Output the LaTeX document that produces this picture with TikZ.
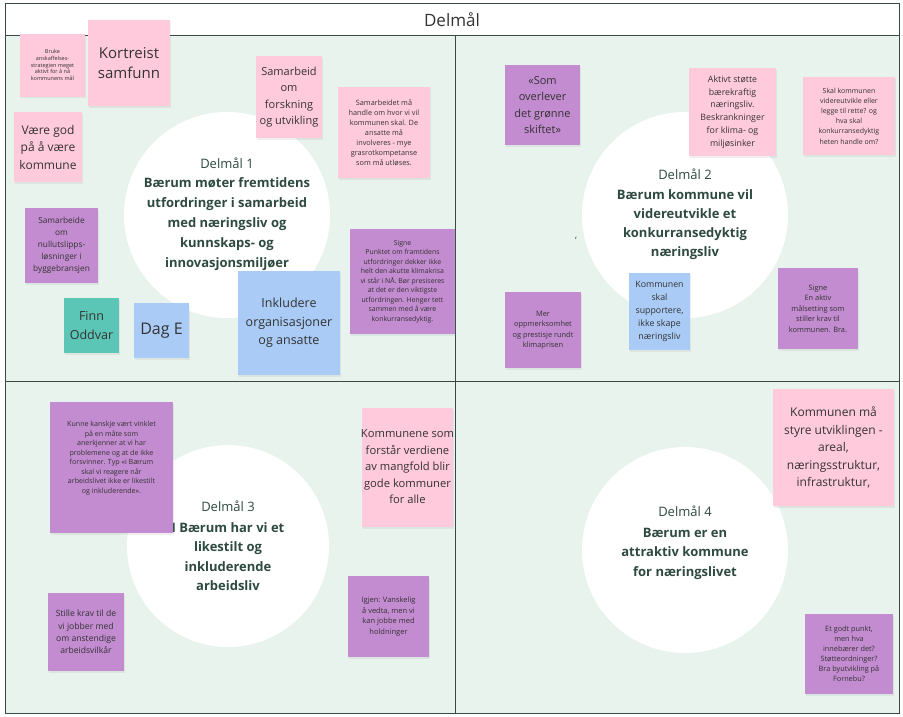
\documentclass[tikz,border=0pt]{standalone}
\usepackage{fontspec}
\setmainfont{Open Sans}
\usetikzlibrary{shadows}
\definecolor{bgmint}{HTML}{E8F3EE}
\definecolor{frame}{HTML}{3A4A43}
\definecolor{pnkc}{HTML}{FFCADB}
\definecolor{purc}{HTML}{C38BD0}
\definecolor{bluc}{HTML}{A9CBF6}
\definecolor{tealc}{HTML}{5CC6B6}
\definecolor{txt}{HTML}{333333}
\definecolor{goal}{HTML}{2E4A40}
\tikzset{
  note/.style={inner sep=2pt, align=center, text=txt,
    drop shadow={opacity=0.12, shadow xshift=0.8pt, shadow yshift=-1.6pt}},
  pnk/.style={note, fill=pnkc},
  pur/.style={note, fill=purc},
  blu/.style={note, fill=bluc},
  tea/.style={note, fill=tealc},
  notetext/.style={inner sep=0pt, align=center, text=txt},
  goalcircle/.style={circle, fill=white, draw=none},
}
\newcommand{\fz}[2]{\fontsize{#1}{#2}\selectfont}
\begin{document}
\begin{tikzpicture}[x=1pt,y=-1pt]
\useasboundingbox (0,0) rectangle (903,716);
\fill[white] (0,0) rectangle (903,716);
% frame
\fill[bgmint] (5,35) rectangle (899,713);
\draw[frame, line width=0.8pt] (5,3) rectangle (899,713);
\draw[frame, line width=0.8pt] (5,35) -- (899,35);
\coordinate (vt) at (455,35);
\coordinate (vb) at (455,713);
\coordinate (hl) at (5,381);
\coordinate (hr) at (899,381);
\draw[frame, line width=0.8pt] (vt) -- (vb);
\draw[frame, line width=0.8pt] (hl) -- (hr);
\node[text=txt, font=\fz{17}{20}] (title) at (452,20) {Delmål};

% goal circles
\node[goalcircle, minimum size=206] (c1) at (227,215) {};
\node[goalcircle, minimum size=206] (c2) at (685,215) {};
\node[goalcircle, minimum size=202] (c3) at (228,546) {};
\node[goalcircle, minimum size=206] (c4) at (685,550) {};

\node[text=goal, align=center, font=\fz{13}{20}] (g1) at (227,214) {Delmål 1\\[-1pt]\textbf{Bærum møter fremtidens}\\\textbf{utfordringer i samarbeid}\\\textbf{med næringsliv og}\\\textbf{kunnskaps- og}\\\textbf{innovasjonsmiljøer}};
\node[text=goal, align=center, font=\fz{13}{19}] (g2) at (685,214) {Delmål 2\\[1pt]\textbf{Bærum kommune vil}\\\textbf{videreutvikle et}\\\textbf{konkurransedyktig}\\\textbf{næringsliv}};
\node[text=goal, align=center, font=\fz{13}{19.5}] (g3) at (228,546) {Delmål 3\\[1pt]\textbf{I Bærum har vi et}\\\textbf{likestilt og}\\\textbf{inkluderende}\\\textbf{arbeidsliv}};
\node[text=goal, align=center, font=\fz{13}{19.5}] (g4) at (685,543) {Delmål 4\\[1pt]\textbf{Bærum er en}\\\textbf{attraktiv kommune}\\\textbf{for næringslivet}};
\node[text=txt, font=\fz{9}{10}] (tick) at (576,240) {`};

% Quadrant 1 notes
\node[pnk, minimum width=65, minimum height=63, font=\fz{5.5}{6.8}] (n1) at (52.5,65) {Bruke\\anskaffelses-\\strategien meget\\aktivt for å nå\\kommunens mål};
\node[pnk, minimum width=82, minimum height=86, font=\fz{15}{20}] (n2) at (129,63) {Kortreist\\samfunn};
\node[pnk, minimum width=68, minimum height=70, font=\fz{12}{17.5}] (n3) at (48,147) {Være god\\på å være\\kommune};
\node[pnk, minimum width=66, minimum height=82, font=\fz{11}{16.3}] (n4) at (289,97) {Samarbeid\\om\\forskning\\og utvikling};
\node[pnk, minimum width=92, minimum height=91, font=\fz{7.3}{10}] (n5) at (384,132.5) {Samarbeidet må\\handle om hvor vi vil\\kommunen skal. De\\ansatte må\\involveres - mye\\grasrotkompetanse\\som må utløses.};
\node[pur, minimum width=73, minimum height=75, font=\fz{8.3}{12}] (n6) at (61.5,245.5) {Samarbeide\\om\\nullutslipps-\\løsninger i\\byggebransjen};
\node[tea, minimum width=55, minimum height=55, font=\fz{12.5}{18.5}] (n7) at (91.5,325.5) {Finn\\Oddvar};
\node[blu, minimum width=55, minimum height=55, font=\fz{16}{20}] (n8) at (161.5,330.5) {Dag E};
\node[blu, minimum width=102, minimum height=104, font=\fz{12.5}{18.5}] (n9) at (289,323) {Inkludere\\organisasjoner\\og ansatte};
\node[pur, minimum width=105, minimum height=105, font=\fz{6.9}{9.5}] (n10) at (402.5,281.5) {Signe\\Punktet om framtidens\\utfordringer dekker ikke\\helt den akutte klimakrisa\\vi står i NÅ. Bør presiseres\\at det er den viktigste\\utfordringen. Henger tett\\sammen med å være\\konkurransedyktig.};

% Quadrant 2 notes
\node[pur, minimum width=75, minimum height=80, font=\fz{11}{16.5}] (n11) at (542.5,105) {«Som\\overlever\\det grønne\\skiftet»};
\node[pnk, minimum width=87, minimum height=88, font=\fz{8.8}{12.7}] (n12) at (732.5,112) {Aktivt støtte\\bærekraftig\\næringsliv.\\Beskrankninger\\for klima- og\\miljøsinker};
\node[pnk, minimum width=92, minimum height=78, font=\fz{7}{10.2}] (n13) at (849,116) {Skal kommunen\\videreutvikle eller\\legge til rette? og\\hva skal\\konkurransedyktig\\heten handle om?};
\node[blu, minimum width=61, minimum height=77, font=\fz{8.8}{13}] (n14) at (659.5,311.5) {Kommunen\\skal\\supportere,\\ikke skape\\næringsliv};
\node[pur, minimum width=76, minimum height=76, font=\fz{7.4}{10.5}] (n15) at (543,330) {Mer\\oppmerksomhet\\og prestisje rundt\\klimaprisen};
\node[pur, minimum width=80, minimum height=81, font=\fz{7.4}{10.5}] (n16) at (818,308.5) {Signe\\En aktiv\\målsetting som\\stiller krav til\\kommunen. Bra.};

% Quadrant 3 notes
\node[pur, minimum width=123, minimum height=131] (n17) at (111.5,467.5) {};
\node[notetext, font=\fz{7.1}{9.5}] (t17) at (111.5,458) {Kunne kanskje vært vinklet\\på en måte som\\anerkjenner at vi har\\problemene og at de ikke\\forsvinner. Typ «i Bærum\\skal vi reagere når\\arbeidslivet ikke er likestilt\\og inkluderende».};
\node[pnk, minimum width=91, minimum height=119] (n18) at (407.5,467.5) {};
\node[notetext, font=\fz{11.2}{16.5}] (t18) at (407.5,467) {Kommunene som\\forstår verdiene\\av mangfold blir\\gode kommuner\\for alle};
\node[pur, minimum width=81, minimum height=81, font=\fz{7.5}{10.4}] (n19) at (388.5,616.5) {Igjen: Vanskelig\\å vedta, men vi\\kan jobbe med\\holdninger};
\node[pur, minimum width=76, minimum height=78, font=\fz{8.6}{12.4}] (n20) at (86,632) {Stille krav til de\\vi jobber med\\om anstendige\\arbeidsvilkår};

% Quadrant 4 notes
\node[pnk, minimum width=121, minimum height=117, font=\fz{12}{17.5}] (n21) at (833.5,447.5) {Kommunen må\\styre utviklingen -\\areal,\\næringsstruktur,\\infrastruktur,};
\node[pur, minimum width=88, minimum height=80, font=\fz{7.3}{10}] (n22) at (849,654) {Et godt punkt,\\men hva\\innebærer det?\\Støtteordninger?\\Bra byutvikling på\\Fornebu?};
\end{tikzpicture}
\end{document}
